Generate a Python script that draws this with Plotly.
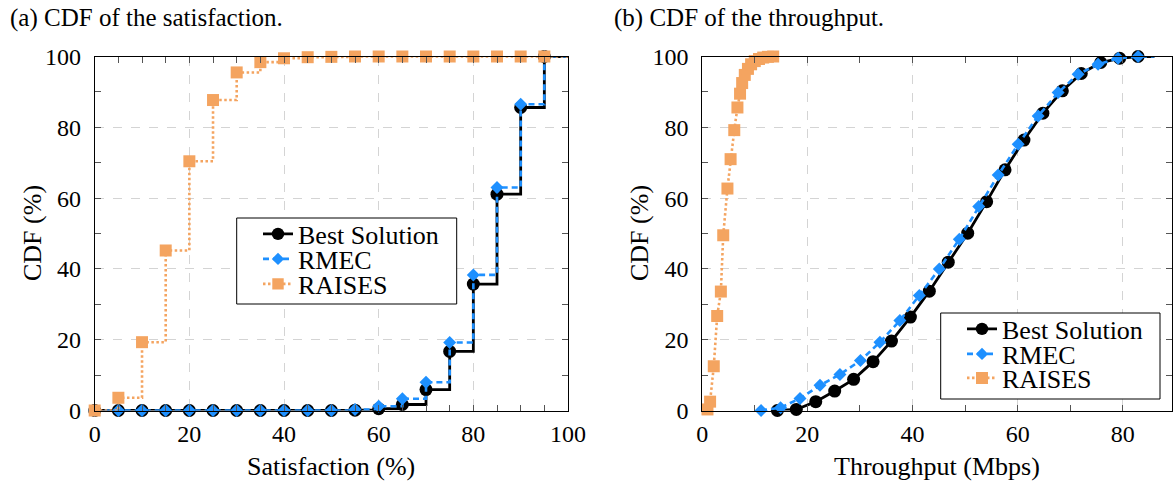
import plotly.graph_objects as go

W, H = 1175, 489
FONT = '"Liberation Serif", "Times New Roman", Times, serif'

BLACK = "#000000"
BLUE = "#1e90ff"
ORANGE = "#f4a460"

# ---- (a) satisfaction CDF, sampled every 5 %
sat_levels = [0, 5, 10, 15, 20, 25, 30, 35, 40, 45, 50, 55, 60, 65, 70, 75, 80, 85, 90, 95, 100]
sat_best = [0, 0, 0, 0, 0, 0, 0, 0, 0, 0, 0, 0.1, 0.5, 1.7, 5.9, 16.7, 35.7, 61.1, 85.6, 100, 100]
sat_rmec = [0, 0, 0, 0, 0, 0, 0, 0, 0, 0, 0, 0.3, 1.2, 3.3, 8.0, 19.2, 38.3, 63.0, 86.5, 100, 100]
sat_raises = [0, 3.6, 19.3, 45.2, 70.4, 87.7, 95.5, 98.4, 99.5, 99.8, 99.9, 100, 100, 100, 100,
              100, 100, 100, 100, 100, 100]

# ---- (b) throughput CDF (Mbps, %)
tp_best_x = [14.3, 17.9, 21.6, 25.2, 28.8, 32.5, 36.0, 39.6, 43.2, 46.8, 50.5, 54.1, 57.6,
             61.2, 64.8, 68.5, 72.1, 75.8, 79.4, 82.9, 86.0]
tp_best_y = [0, 0.3, 2.5, 5.5, 8.8, 13.8, 19.6, 26.4, 33.7, 41.9, 50.1, 59.0, 68.0,
             76.4, 84.0, 90.3, 95.2, 98.3, 99.5, 100, 100]
tp_rmec_x = [11.2, 14.9, 18.6, 22.4, 26.2, 30.1, 33.8, 37.6, 41.3, 45.1, 48.9, 52.6, 56.3,
             60.1, 63.9, 67.7, 71.5, 75.3, 79.1, 82.9, 86.0]
tp_rmec_y = [0, 0.8, 3.4, 7.1, 10.2, 14.1, 19.3, 25.4, 32.5, 40.0, 48.4, 57.6, 66.5,
             75.2, 83.2, 89.8, 95.0, 97.8, 99.5, 100, 100]
tp_raises_x = [1.0, 1.5, 2.2, 2.85, 3.55, 4.0, 4.8, 5.4, 6.1, 6.7, 7.2, 7.6, 8.1, 8.7, 9.3,
               10.0, 10.8, 11.6, 12.5, 13.5]
tp_raises_y = [0.3, 2.5, 12.5, 26.7, 33.6, 49.5, 62.7, 71.0, 79.2, 85.6, 89.5, 92.5, 94.8,
               96.5, 97.8, 98.7, 99.3, 99.7, 99.9, 100]

y_ticks = [0, 20, 40, 60, 80, 100]
sat_ticks = [0, 20, 40, 60, 80, 100]
tp_ticks = [0, 20, 40, 60, 80]


def px(x):
    return x / W


def py(y):
    return 1 - y / H


def sizes(n, s):
    # last point only carries the line to the axis end, no marker
    return [s] * (n - 1) + [0]


fig = go.Figure()

styles = [
    dict(color=BLACK, dash="solid", symbol="circle", msize=13, width=2.8),
    dict(color=BLUE, dash="6px,4px", symbol="diamond", msize=10, width=2.6),
    dict(color=ORANGE, dash="2.5px,2.5px", symbol="square", msize=12, width=2.6),
]
names = ["Best Solution", "RMEC", "RAISES"]

sat_series = [sat_best, sat_rmec, sat_raises]
for i, (yv, st) in enumerate(zip(sat_series, styles)):
    fig.add_trace(go.Scatter(
        x=sat_levels, y=yv, name=names[i], mode="lines+markers",
        line=dict(color=st["color"], width=st["width"], dash=st["dash"], shape="hv"),
        marker=dict(color=st["color"], symbol=st["symbol"], opacity=1,
                    size=sizes(len(sat_levels), st["msize"]), line=dict(width=0)),
        cliponaxis=False, xaxis="x", yaxis="y", showlegend=True,
        legend=["legend", "legend2", "legend3"][i],
    ))

tp_series = [(tp_best_x, tp_best_y, True), (tp_rmec_x, tp_rmec_y, True),
             (tp_raises_x, tp_raises_y, False)]
for i, ((xv, yv, tail), st) in enumerate(zip(tp_series, styles)):
    ms = sizes(len(xv), st["msize"]) if tail else st["msize"]
    fig.add_trace(go.Scatter(
        x=xv, y=yv, name=names[i], mode="lines+markers",
        line=dict(color=st["color"], width=st["width"], dash=st["dash"]),
        marker=dict(color=st["color"], symbol=st["symbol"], size=ms, opacity=1,
                    line=dict(width=0)),
        cliponaxis=False, xaxis="x2", yaxis="y2", showlegend=True,
        legend=["legend4", "legend5", "legend6"][i],
    ))

axis_common = dict(
    showline=True, linecolor=BLACK, linewidth=1, mirror="ticks",
    ticks="inside", ticklen=6, tickcolor="#555555", tickwidth=1,
    showgrid=True, gridcolor="#d4d4d4", griddash="dash", gridwidth=1,
    zeroline=False, tickfont=dict(family=FONT, size=24, color=BLACK),
    fixedrange=True,
)
minor_common = dict(ticks="inside", ticklen=6, tickcolor="#555555", showgrid=False)

y_dom = [py(410.5), py(56.5)]

fig.update_layout(
    width=W, height=H, margin=dict(l=0, r=0, t=0, b=0),
    paper_bgcolor="white", plot_bgcolor="white", template="none",
    font=dict(family=FONT, color=BLACK), showlegend=True,
    xaxis=dict(axis_common, domain=[px(94.7), px(568)], range=[0, 100],
               tickvals=sat_ticks, ticklabelstandoff=2,
               minor=dict(minor_common, dtick=5), anchor="y"),
    yaxis=dict(axis_common, domain=y_dom, range=[0, 100], tickvals=y_ticks,
               ticklabelstandoff=8, minor=dict(minor_common, dtick=10), anchor="x"),
    xaxis2=dict(axis_common, domain=[px(702.2), px(1171.7)], range=[0, 89.3],
                tickvals=tp_ticks, ticklabelstandoff=2,
                minor=dict(minor_common, dtick=10), anchor="y2"),
    yaxis2=dict(axis_common, domain=y_dom, range=[0, 100], tickvals=y_ticks,
                ticklabelstandoff=8, minor=dict(minor_common, dtick=10), anchor="x2"),
)

# one legend per entry so rows sit at the same pitch as the framed boxes
legend_common = dict(
    xanchor="left", yanchor="middle", bgcolor="rgba(0,0,0,0)", borderwidth=0,
    font=dict(family=FONT, size=26, color=BLACK), itemwidth=30, visible=True,
)
left_rows = [234, 259, 284]
right_rows = [329, 354, 378]
for k, yrow in enumerate(left_rows):
    key = "legend" if k == 0 else f"legend{k + 1}"
    fig.update_layout({key: dict(legend_common, x=px(258), y=py(yrow))})
for k, yrow in enumerate(right_rows):
    fig.update_layout({f"legend{k + 4}": dict(legend_common, x=px(962), y=py(yrow))})

# legend frames
for (x0, x1, y0, y1) in [(236.7, 456.7, 218, 304), (940.7, 1160, 313, 399)]:
    fig.add_shape(type="rect", xref="paper", yref="paper",
                  x0=px(x0), x1=px(x1), y0=py(y1), y1=py(y0),
                  fillcolor="white", line=dict(color=BLACK, width=1), layer="above")

annotations = [
    dict(text="(a) CDF of the satisfaction.", x=px(8), y=py(18), xanchor="left",
         yanchor="middle", font=dict(size=25)),
    dict(text="(b) CDF of the throughput.", x=px(612), y=py(18), xanchor="left",
         yanchor="middle", font=dict(size=25)),
    dict(text="CDF (%)", x=px(32), y=py(233), textangle=-90, xanchor="center",
         yanchor="middle", font=dict(size=26)),
    dict(text="CDF (%)", x=px(639), y=py(233), textangle=-90, xanchor="center",
         yanchor="middle", font=dict(size=26)),
    dict(text="Satisfaction (%)", x=px(331.4), y=py(466), xanchor="center",
         yanchor="middle", font=dict(size=26)),
    dict(text="Throughput (Mbps)", x=px(937), y=py(466), xanchor="center",
         yanchor="middle", font=dict(size=26)),
]
for a in annotations:
    a.update(xref="paper", yref="paper", showarrow=False)
    a["font"].update(family=FONT, color=BLACK)
    fig.add_annotation(**a)

fig.write_html("out.html")
